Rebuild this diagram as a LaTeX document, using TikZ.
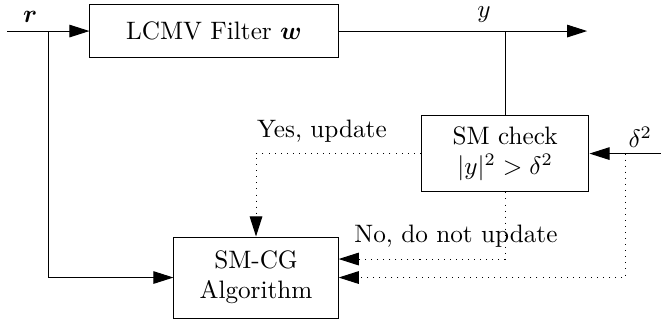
\documentclass[tikz,border=0pt]{standalone}
\usepackage{amsmath,amssymb}
\usepackage{bm}
\usetikzlibrary{arrows.meta,positioning}

\begin{document}
\begin{tikzpicture}[
  blk/.style={draw, thin, inner sep=0pt, align=center},
  arr/.style={-{Triangle[length=8pt,width=5pt]}, thin},
  dotarr/.style={arr, dotted},
  lbl/.style={inner sep=0pt}
]
  \useasboundingbox (0,0) rectangle (9.22,4.52);

  % Blocks
  \node[blk, minimum width=3.46cm, minimum height=0.75cm] (lcmv) at (2.985, 4.087) {LCMV Filter $\bm{w}$};
  \node[blk, minimum width=2.34cm, minimum height=1.07cm] (smc) at (7.045, 2.378) {SM check\\$|y|^2 > \delta^2$};
  \node[blk, minimum width=2.29cm, minimum height=1.13cm] (alg) at (3.571, 0.649) {SM-CG\\Algorithm};

  % Free ends and branch points
  \coordinate (rin) at (0.098, 4.087);
  \coordinate (rbr) at (0.67, 4.087);
  \coordinate (yout) at (8.19, 4.087);
  \coordinate (din) at (9.22, 2.378);
  \coordinate (dbr) at (8.72, 2.378);

  % Signal paths
  \draw[arr] (rin) -- (lcmv.west);
  \draw[arr] (rbr) |- (alg.west);
  \draw[arr] (lcmv.east) -- (yout);
  \draw (smc.north) -- (smc.north |- yout);
  \draw[arr] (din) -- (smc.east);

  % Decision paths
  \draw[dotarr] (smc.west) -| (alg.north);
  \draw[dotarr] (smc.south) |- ([yshift=0.258cm]alg.east);
  \draw[dotarr] (dbr) |- (alg.east);

  % Labels
  \node[lbl] (rlbl) at (0.42, 4.28) {$\bm{r}$};
  \node[lbl] (ylbl) at (6.75, 4.32) {$y$};
  \node[lbl] (dlbl) at (8.93, 2.61) {$\delta^2$};
  \node[lbl] (yes) at (4.49, 2.69) {Yes, update};
  \node[lbl] (no) at (6.36, 1.23) {No, do not update};
\end{tikzpicture}
\end{document}
